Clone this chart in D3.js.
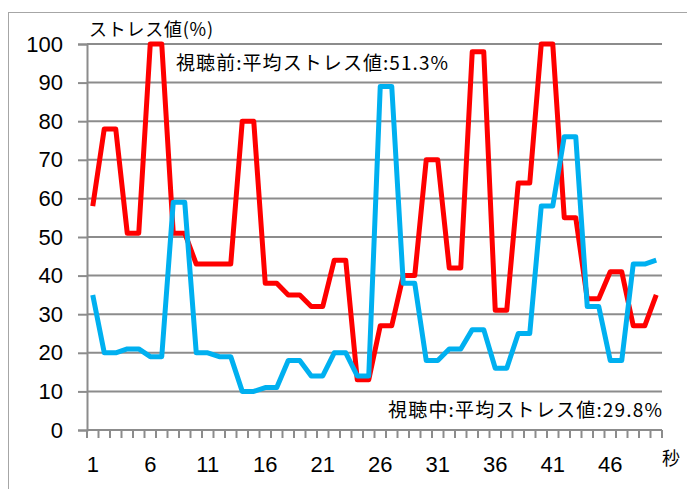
<!DOCTYPE html>
<html><head><meta charset="utf-8">
<script src="https://cdn.jsdelivr.net/npm/d3@7"></script>
<style>body{margin:0;background:#fff}svg{display:block}</style>
</head><body>
<script>
const seconds = d3.range(1, 51);
const before = [58,78,78,51,51,100,100,51,51,43,43,43,43,80,80,38,38,35,35,32,32,44,44,13,13,27,27,40,40,70,70,42,42,98,98,31,31,64,64,100,100,55,55,34,34,41,41,27,27,35];
const during = [35,20,20,21,21,19,19,59,59,20,20,19,19,10,10,11,11,18,18,14,14,20,20,14,14,89,89,38,38,18,18,21,21,26,26,16,16,25,25,58,58,76,76,32,32,18,18,43,43,44];
const yTicks = [0,10,20,30,40,50,60,70,80,90,100];
const xLabels = [1,6,11,16,21,26,31,36,41,46];
const yTitle = "ストレス値(%)";
const xTitle = "秒";
const noteBefore = "視聴前:平均ストレス値:51.3%";
const noteDuring = "視聴中:平均ストレス値:29.8%";

const W = 687, H = 489;
const svg = d3.select("body").append("svg").attr("width", W).attr("height", H);
const L = 87, R = 662, T = 44, B = 430;
const x = d3.scaleBand().domain(seconds).range([L, R]);
const y = d3.scaleLinear().domain([0, 100]).range([B, T]);
const cx = d => x(d) + x.bandwidth() / 2;

// outer border
svg.append("rect").attr("x", 8.5).attr("y", 12.5).attr("width", 700).attr("height", 500)
  .attr("fill", "#fff").attr("stroke", "#a6a6a6").attr("stroke-width", 1);

const grid = "#8c8c8c";
const num = "Liberation Sans, Arial, sans-serif";
// gridlines + y axis
const yAxis = d3.axisLeft(y).tickValues(yTicks).tickSize(9).tickPadding(15).tickFormat(d3.format("d"));
const gy = svg.append("g").attr("transform", `translate(${L},0)`).call(yAxis);
gy.select(".domain").attr("stroke", grid).attr("stroke-width", 2);
gy.selectAll(".tick line").attr("stroke", grid).attr("stroke-width", 2);
gy.selectAll(".tick text").attr("font-family", num).attr("font-size", 22).attr("fill", "#000");
svg.append("g").selectAll("line").data(yTicks.filter(d => d > 0)).join("line")
  .attr("x1", L).attr("x2", R).attr("y1", d => y(d)).attr("y2", d => y(d))
  .attr("stroke", grid).attr("stroke-width", 2);

// x axis
const gx = svg.append("g").attr("transform", `translate(0,${B})`);
gx.append("line").attr("x1", L).attr("x2", R).attr("stroke", grid).attr("stroke-width", 2);
const bounds = seconds.map(d => x(d)).concat([x(seconds[seconds.length - 1]) + x.bandwidth()]);
gx.selectAll("line.tk").data(bounds).join("line").attr("class", "tk")
  .attr("x1", d => d).attr("x2", d => d).attr("y1", 0).attr("y2", 8)
  .attr("stroke", grid).attr("stroke-width", 2);
gx.selectAll("text").data(xLabels).join("text")
  .attr("x", d => cx(d)).attr("y", 42).attr("text-anchor", "middle")
  .attr("font-family", num).attr("font-size", 22).attr("fill", "#000")
  .text(d => d);

// lines
const line = d3.line().x((d, i) => cx(seconds[i])).y(d => y(d));
svg.append("path").datum(before).attr("d", line).attr("fill", "none")
  .attr("stroke", "#ff0000").attr("stroke-width", 5).attr("stroke-linejoin", "round");
svg.append("path").datum(during).attr("d", line).attr("fill", "none")
  .attr("stroke", "#00b0f0").attr("stroke-width", 5).attr("stroke-linejoin", "round");

// texts
const jp = "Noto Sans CJK JP, sans-serif";
svg.append("text").attr("x", 89).attr("y", 36).attr("font-family", jp).attr("font-size", 18).attr("fill", "#000")
  .attr("textLength", 124).attr("lengthAdjust", "spacing").text(yTitle);
svg.append("text").attr("x", 176).attr("y", 70).attr("font-family", jp).attr("font-size", 19).attr("fill", "#000")
  .attr("textLength", 272).attr("lengthAdjust", "spacing").text(noteBefore);
svg.append("text").attr("x", 388).attr("y", 417).attr("font-family", jp).attr("font-size", 19).attr("fill", "#000")
  .attr("textLength", 274).attr("lengthAdjust", "spacing").text(noteDuring);
svg.append("text").attr("x", 662).attr("y", 465).attr("font-family", jp).attr("font-size", 18).attr("fill", "#000").text(xTitle);
</script>
</body></html>
